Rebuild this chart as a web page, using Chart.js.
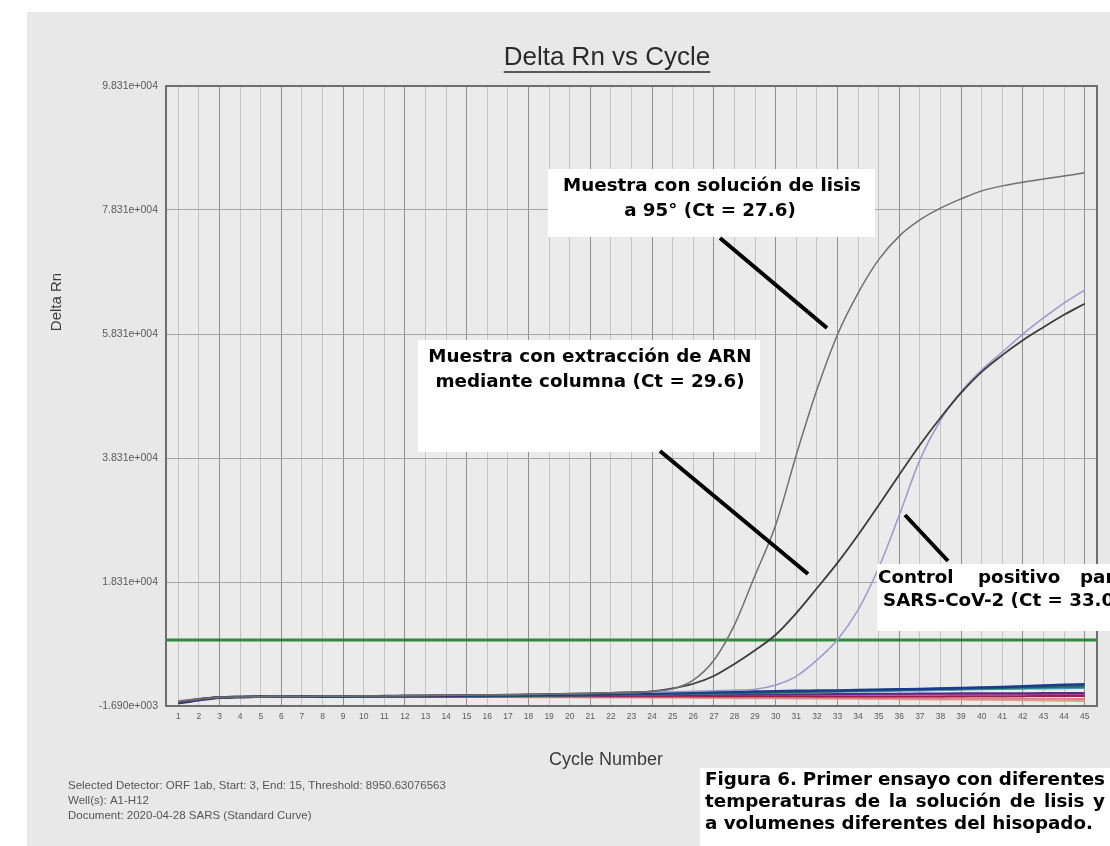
<!DOCTYPE html>
<html>
<head>
<meta charset="utf-8">
<script src="https://cdn.jsdelivr.net/npm/chart.js@4.4.1/dist/chart.umd.min.js"></script>
<style>
  html, body { margin: 0; padding: 0; background: #ffffff; }
  canvas { display: block; }
</style>
</head>
<body>
<canvas id="rnChart" width="1110" height="846"></canvas>
<script>
// Ciclos del ensayo
const cycles = [1, 2, 3, 4, 5, 6, 7, 8, 9, 10, 11, 12, 13, 14, 15, 16, 17, 18, 19, 20,
  21, 22, 23, 24, 25, 26, 27, 28, 29, 30, 31, 32, 33, 34, 35, 36, 37, 38, 39, 40,
  41, 42, 43, 44, 45];

// Ejes
const yTickValues = [-1690, 18310, 38310, 58310, 78310, 98310];
const yTickLabels = ['-1.690e+003', '1.831e+004', '3.831e+004', '5.831e+004', '7.831e+004', '9.831e+004'];
const threshold = 8950.63;

// Curvas de amplificación (Delta Rn)
const lysis95 = [-1000, -600, -300, -220, -190, -170, -150, -130, -110, -90,
  -60, -30, 0, 30, 60, 100, 140, 190, 240, 300,
  370, 450, 540, 700, 1100, 2500, 5700, 11400, 19400, 27500,
  38800, 49300, 58200, 64900, 70300, 74100, 76700, 78600, 80100, 81400,
  82200, 82800, 83300, 83800, 84300];
const columnRNA = [-1050, -620, -320, -230, -200, -175, -155, -135, -115, -95,
  -70, -40, -10, 20, 50, 90, 130, 180, 230, 290,
  360, 440, 530, 680, 1150, 1900, 3150, 5100, 7300, 9800,
  13300, 17300, 21400, 25900, 30700, 35600, 40400, 44800, 48800, 52200,
  54900, 57300, 59400, 61400, 63200];
const positiveControl = [-950, -580, -290, -210, -185, -165, -145, -125, -105, -85,
  -60, -35, -5, 25, 55, 90, 125, 165, 210, 260,
  320, 390, 460, 540, 620, 700, 780, 860, 1000, 1700,
  3100, 5700, 9000, 13800, 20600, 29100, 38000, 44400, 49000, 52500,
  55400, 58300, 60900, 63300, 65400];

// Pozos sin amplificación
const wellBlue = [-1150, -650, -320, -240, -210, -190, -170, -150, -130, -110,
  -95, -80, -60, -40, -20, 0, 30, 60, 100, 140,
  180, 230, 280, 340, 410, 470, 520, 580, 640, 700,
  750, 790, 830, 880, 940, 1000, 1060, 1130, 1200, 1280,
  1380, 1500, 1620, 1720, 1800];
const wellGreen = [-1100, -620, -300, -230, -200, -185, -170, -155, -140, -125,
  -110, -95, -80, -65, -50, -30, -10, 10, 40, 70,
  100, 140, 180, 220, 270, 320, 370, 420, 470, 520,
  580, 640, 720, 820, 900, 960, 1020, 1080, 1140, 1200,
  1260, 1320, 1380, 1440, 1500];
const wellTeal = [-1050, -600, -290, -220, -195, -180, -165, -150, -135, -120,
  -105, -90, -75, -60, -45, -30, -15, 0, 20, 40,
  60, 90, 120, 160, 200, 250, 300, 350, 400, 450,
  500, 550, 600, 650, 700, 760, 820, 880, 940, 1000,
  1050, 1100, 1150, 1190, 1220];
const wellPurple = [-1300, -800, -400, -260, -220, -200, -190, -180, -170, -160,
  -150, -140, -130, -120, -110, -100, -90, -70, -50, -30,
  -10, 10, 30, 50, 70, 90, 110, 130, 150, 170,
  190, 210, 230, 250, 270, 290, 310, 330, 350, 360,
  370, 380, 390, 400, 410];
const wellMagenta = [-1200, -700, -350, -250, -220, -200, -180, -160, -150, -140,
  -130, -120, -110, -100, -90, -80, -70, -60, -50, -40,
  -30, -20, -10, 0, 10, 20, 30, 40, 50, 60,
  70, 80, 90, 100, 110, 120, 130, 140, 150, 160,
  170, 180, 190, 200, 210];
const wellRed = [-1000, -600, -300, -230, -210, -200, -190, -185, -180, -175,
  -170, -165, -160, -155, -150, -145, -140, -135, -130, -125,
  -120, -115, -110, -105, -100, -100, -100, -105, -110, -120,
  -130, -140, -150, -160, -170, -160, -150, -140, -130, -120,
  -110, -100, -90, -80, -80];
const wellPink = [-950, -560, -280, -210, -190, -180, -170, -165, -160, -155,
  -150, -150, -150, -155, -160, -165, -170, -180, -190, -200,
  -210, -220, -230, -240, -250, -265, -280, -295, -310, -325,
  -340, -355, -370, -385, -400, -415, -430, -445, -460, -475,
  -490, -505, -520, -540, -560];
const wellOrange = [-900, -540, -270, -200, -185, -175, -170, -170, -175, -180,
  -190, -200, -210, -220, -230, -240, -250, -260, -270, -285,
  -300, -315, -330, -345, -360, -380, -400, -420, -440, -460,
  -480, -500, -520, -540, -560, -585, -610, -635, -660, -690,
  -720, -750, -790, -830, -870];

// Convierte una serie en puntos {x, y}
function toPoints(values) {
  return values.map((v, i) => ({ x: cycles[i], y: v }));
}

function lineSet(values, color, width, order) {
  return {
    data: toPoints(values),
    borderColor: color,
    borderWidth: width,
    pointRadius: 0,
    cubicInterpolationMode: 'monotone',
    fill: false,
    order: order
  };
}

const datasets = [
  lineSet(lysis95, '#707070', 1.5, 1),
  lineSet(columnRNA, '#3c3c3c', 1.8, 2),
  lineSet(positiveControl, '#9c98cc', 1.5, 3),
  lineSet(wellBlue, '#1c3b8e', 2.5, 5),
  lineSet(wellGreen, '#226c48', 2.5, 6),
  lineSet(wellTeal, '#3b9bb2', 2, 7),
  lineSet(wellPurple, '#5a2a88', 2, 8),
  lineSet(wellMagenta, '#b0409c', 1.5, 9),
  lineSet(wellRed, '#a01c40', 2, 10),
  lineSet(wellPink, '#de7e98', 2, 11),
  lineSet(wellOrange, '#e2a07a', 2, 12),
  {
    data: [{ x: 0.4, y: threshold }, { x: 45.6, y: threshold }],
    borderColor: '#2f8a3c',
    borderWidth: 3,
    pointRadius: 0,
    order: 4
  }
];

// Texto justificado dentro de un ancho
function justify(ctx, text, x, y, width) {
  const words = text.split(' ');
  const total = words.reduce((s, w) => s + ctx.measureText(w).width, 0);
  const gap = (width - total) / (words.length - 1);
  let cx = x;
  words.forEach(w => {
    ctx.fillText(w, cx, y);
    cx += ctx.measureText(w).width + gap;
  });
}

// Fondo gris del panel
const panelPlugin = {
  id: 'panel',
  beforeDraw(chart) {
    const ctx = chart.ctx;
    const a = chart.chartArea;
    ctx.save();
    ctx.fillStyle = '#ffffff';
    ctx.fillRect(0, 0, chart.width, chart.height);
    ctx.fillStyle = '#e8e8e8';
    ctx.fillRect(27, 12, chart.width - 27, chart.height - 12);
    ctx.fillStyle = '#ebebeb';
    ctx.fillRect(a.left, a.top, a.right - a.left, a.bottom - a.top);
    ctx.restore();
  },
  afterDatasetsDraw(chart) {
    const ctx = chart.ctx;
    const a = chart.chartArea;
    ctx.save();
    ctx.strokeStyle = '#6e6e6e';
    ctx.lineWidth = 2;
    ctx.strokeRect(a.left, a.top, a.right - a.left, a.bottom - a.top);
    ctx.restore();
  }
};

// Títulos, notas y cuadros de texto
const notesPlugin = {
  id: 'notes',
  afterDraw(chart) {
    const ctx = chart.ctx;
    ctx.save();

    // Título subrayado
    ctx.fillStyle = '#2a2a2a';
    ctx.font = '26px "Liberation Sans", Arial, sans-serif';
    ctx.textAlign = 'center';
    ctx.textBaseline = 'middle';
    ctx.fillText('Delta Rn vs Cycle', 607, 58);
    const tw = ctx.measureText('Delta Rn vs Cycle').width;
    ctx.strokeStyle = '#2a2a2a';
    ctx.lineWidth = 1.5;
    ctx.beginPath();
    ctx.moveTo(607 - tw / 2, 72);
    ctx.lineTo(607 + tw / 2, 72);
    ctx.stroke();

    // Títulos de ejes
    ctx.fillStyle = '#3a3a3a';
    ctx.font = '18px "Liberation Sans", Arial, sans-serif';
    ctx.fillText('Cycle Number', 606, 760);
    ctx.save();
    ctx.translate(57, 302);
    ctx.rotate(-Math.PI / 2);
    ctx.font = '15px "Liberation Sans", Arial, sans-serif';
    ctx.fillText('Delta Rn', 0, 0);
    ctx.restore();

    // Pie de la figura del software
    ctx.textAlign = 'left';
    ctx.fillStyle = '#555555';
    ctx.font = '11.5px "Liberation Sans", Arial, sans-serif';
    ctx.fillText('Selected Detector: ORF 1ab, Start: 3, End: 15, Threshold: 8950.63076563', 68, 786);
    ctx.fillText('Well(s): A1-H12', 68, 801);
    ctx.fillText('Document: 2020-04-28 SARS (Standard Curve)', 68, 816);

    // Cuadros de anotación
    ctx.fillStyle = '#ffffff';
    ctx.fillRect(548, 169, 327, 68);
    ctx.fillRect(418, 340, 342, 112);
    ctx.fillRect(877, 564, 240, 67);
    ctx.fillRect(700, 768, 410, 78);

    ctx.strokeStyle = '#000000';
    ctx.lineWidth = 4;
    ctx.lineCap = 'butt';
    ctx.beginPath();
    ctx.moveTo(720, 238); ctx.lineTo(827, 328);
    ctx.moveTo(660, 451); ctx.lineTo(808, 574);
    ctx.moveTo(905, 515); ctx.lineTo(948, 561);
    ctx.stroke();

    // Tamaño de letra ajustado al ancho del texto original
    const family = '"DejaVu Sans", "Noto Sans", sans-serif';
    ctx.font = 'bold 20px ' + family;
    const size = 20 * 299 / ctx.measureText('Muestra con solución de lisis').width;
    ctx.font = 'bold ' + size.toFixed(1) + 'px ' + family;

    ctx.fillStyle = '#000000';
    ctx.textAlign = 'center';
    ctx.fillText('Muestra con solución de lisis', 712, 186);
    ctx.fillText('a 95° (Ct = 27.6)', 710, 211);
    ctx.fillText('Muestra con extracción de ARN', 590, 357);
    ctx.fillText('mediante columna (Ct = 29.6)', 590, 382);

    ctx.textAlign = 'left';
    ctx.fillText('Control', 878, 578);
    ctx.fillText('positivo', 978, 578);
    ctx.fillText('para', 1080, 578);
    ctx.fillText('SARS-CoV-2 (Ct = 33.0)', 883, 601);

    justify(ctx, 'Figura 6. Primer ensayo con diferentes', 705, 780, 400);
    justify(ctx, 'temperaturas de la solución de lisis y', 705, 802, 400);
    ctx.fillText('a volumenes diferentes del hisopado.', 705, 824);

    ctx.restore();
  }
};

const config = {
  type: 'line',
  data: { datasets: datasets },
  options: {
    responsive: false,
    animation: false,
    layout: { padding: { left: 0, top: 86, right: 13, bottom: 116 } },
    plugins: {
      legend: { display: false },
      tooltip: { enabled: false },
      title: { display: false }
    },
    scales: {
      x: {
        type: 'linear',
        min: 0.4,
        max: 45.6,
        afterBuildTicks: scale => { scale.ticks = cycles.map(c => ({ value: c })); },
        afterFit: scale => { scale.height = 24; },
        ticks: {
          autoSkip: false,
          maxRotation: 0,
          padding: 6,
          color: '#5a5a5a',
          font: { family: '"Liberation Sans", Arial, sans-serif', size: 8.5 },
          callback: v => String(v)
        },
        grid: {
          drawTicks: false,
          color: ctx => (ctx.tick && ctx.tick.value % 3 === 0 ? '#8f8f8f' : '#c4c4c4'),
          lineWidth: 1
        },
        border: { display: false }
      },
      y: {
        min: -1690,
        max: 98310,
        afterBuildTicks: scale => { scale.ticks = yTickValues.map(v => ({ value: v })); },
        afterFit: scale => { scale.width = 166; },
        ticks: {
          padding: 8,
          color: '#5a5a5a',
          font: { family: '"Liberation Sans", Arial, sans-serif', size: 10.5 },
          callback: (v, i) => yTickLabels[i]
        },
        grid: { drawTicks: false, color: '#a6a6a6', lineWidth: 1 },
        border: { display: false }
      }
    }
  },
  plugins: [panelPlugin, notesPlugin]
};

const ctx = document.getElementById('rnChart').getContext('2d');
const chartInstance = new Chart(ctx, config);
</script>
</body>
</html>
